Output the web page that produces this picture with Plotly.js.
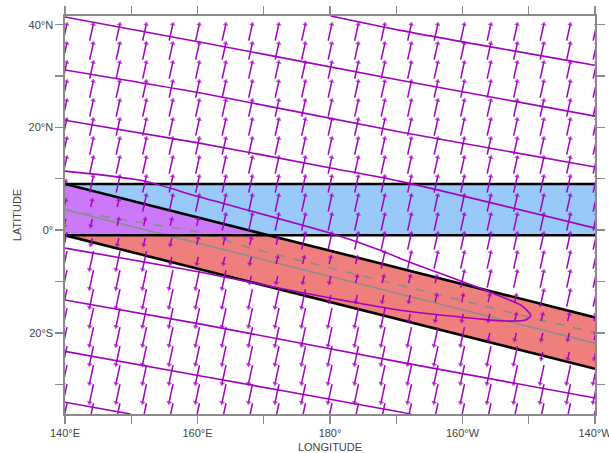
<!DOCTYPE html>
<html><head><meta charset="utf-8">
<script src="https://cdn.plot.ly/plotly-3.0.1.min.js"></script>
<style>html,body{margin:0;padding:0;background:#fff}#chart{width:609px;height:453px}</style>
</head><body><div id="chart"></div>
<script>
// ---- axis ticks ----
const lonTicks = [140,150,160,170,180,190,200,210,220];
const lonTickText = ['140°E','','160°E','','180°','','160°W','','140°W'];
const latTicks = [-30,-20,-10,0,10,20,30,40];
const latTickText = ['','20°S','','0°','','20°N','','40°N'];

// ---- shaded regions (lon, lat) ----
const blueLon = [140,220,220,140];   const blueLat = [9,9,-1,-1];
const redLon  = [140,220,220,140];   const redLat  = [9,-17,-27,-1];
const overlapLon = [140,170.8,140];  const overlapLat = [9,-1,-1];
// black outlines
const hTopLon = [140,220]; const hTopLat = [9,9];
const hBotLon = [140,220]; const hBotLat = [-1,-1];
const tUpLon = [140,220];  const tUpLat = [9,-17];
const tLoLon = [140,220];  const tLoLat = [-1,-27];
// gray lines
const graySolidLon = [140,220]; const graySolidLat = [4,-22];
const grayDashLon = [140,160.5,168,187.6,211.8,220];
const grayDashLat = [3.9,-0.4,-3.5,-9.7,-17.5,-19.9];

// ---- magenta contour lines ----
const cN0Lon = [180.1,190.6,220];            const cN0Lat = [41.7,38.9,32.1];
const cN1Lon = [140,160.5,190.6,220];        const cN1Lat = [41.5,36.6,29.2,22.2];
const cN2Lon = [140,160.5,190.6,220];        const cN2Lat = [31.2,26.7,19.1,12.3];
const cN3Lon = [140,160.5,180.1,190.6,220];  const cN3Lat = [21.4,16.9,12.1,9.5,0.4];
const cLoopLon = [140,151.4,160.5,180.1,187.6,190.6,204.2,208.8,210,210.3,209.5,206.5,202.7,190.6,175.5,160.5,140];
const cLoopLat = [11.5,9.7,6.4,-0.6,-3.9,-5.5,-12.1,-14.6,-16,-16.7,-17.5,-17.7,-17.3,-15.6,-12.1,-8.2,-3.5];
const cS1Lon = [140,160.5,190.6,220];        const cS1Lat = [-13.6,-18.3,-25.7,-32.7];
const cS2Lon = [140,160.5,190.6,192.2];      const cS2Lat = [-23.6,-28.4,-35.4,-35.8];
const cS3Lon = [140,149.9];                  const cS3Lat = [-33.5,-35.8];

// ---- wind vectors ----
const vecLon = [140,144,148,152,156,160,164,168,172,176,180,184,188,192,196,200,204,208,212,216,220];
const vecLat = [38.5,34.8,31.1,27.4,23.7,20.0,16.3,12.6,8.9,5.2,1.5,-2.2,-5.9,-9.6,-13.3,-17.0,-20.7,-24.4,-28.1,-31.8,-35.5];
// one string per latitude row, one letter per longitude column
const vecRows = [
 'NNNNNNNNNNNNNNNNNNNNN',
 'NNNNNNNNNNNNNNNNNNNNN',
 'NNNNNNNNNNNNNNNNNNNNN',
 'NNNNNNNNNNNNNNNNNNNNN',
 'NNNNNNNNNNNNNNNNNNNNN',
 'NNNNNNNNNNNNNNNNNNNNN',
 'NNNNNNNNNNNNNNNNNNNNN',
 'NNNNNNNNNNNNNNNNNNNNN',
 'nNNNNNNNNNNNNNNNNNNNN',
 'nnnNNNNNNNNNNNNNNNNNN',
 'ssnnnnNNNNNNNNNNNNNNN',
 'SssssnnnnNNNNNNNNNNNN',
 'SSSSssssnnnnNNNNNNNNN',
 'SSSSSSSssssnnnnNNNNNN',
 'SSSSSSSSSSssssnnnnNNN',
 'SSSSSSSSSSSSSssssnnnn',
 'SSSSSSSSSSSSSSSSssssn',
 'SSSSSSSSSSSSSSSSSSsss',
 'SSSSSSSSSSSSSSSSSSSSS',
 'SSSSSSSSSSSSSSSSSSSSS',
 'SSSSSSSSSSSSSSSSSSSSS'
];
// (u, v) of each arrow kind, in degrees of lon / lat
const vecKinds = {N:[0.55,3.2], n:[0.25,1.4], s:[-0.25,-1.4], S:[-0.6,-3.6]};

const MAG = '#a300c2';
const traces = [];
function poly(x,y,color){traces.push({x:x,y:y,type:'scatter',mode:'lines',fill:'toself',fillcolor:color,line:{width:0},hoverinfo:'skip'});}
function line(x,y,color,w,dash,shape){traces.push({x:x,y:y,type:'scatter',mode:'lines',line:{color:color,width:w,dash:dash||'solid',shape:shape||'linear',smoothing:0.7},hoverinfo:'skip'});}

poly(blueLon,blueLat,'#99c9f9');
poly(redLon,redLat,'#ef7f7c');
poly(overlapLon,overlapLat,'#cc78fb');
line(graySolidLon,graySolidLat,'#8c8c8c',1.6);
line(grayDashLon,grayDashLat,'#8c8c8c',1.6,'dash');
line(hTopLon,hTopLat,'#000',2.6); line(hBotLon,hBotLat,'#000',2.6);
line(tUpLon,tUpLat,'#000',2.6);   line(tLoLon,tLoLat,'#000',2.6);

[[cN0Lon,cN0Lat],[cN1Lon,cN1Lat],[cN2Lon,cN2Lat],[cN3Lon,cN3Lat],[cS1Lon,cS1Lat],[cS2Lon,cS2Lat],[cS3Lon,cS3Lat]]
  .forEach(c=>line(c[0],c[1],MAG,1.6,'solid','spline'));
line(cLoopLon,cLoopLat,MAG,1.6,'solid','spline');

const ax=[],ay=[],as=[];
vecRows.forEach((row,r)=>{
  for(let c=0;c<row.length;c++){
    const k=vecKinds[row[c]]; if(!k) continue;
    const lo=vecLon[c], la=vecLat[r];
    ax.push(lo-k[0]/2, lo+k[0]/2, null);
    ay.push(la-k[1]/2, la+k[1]/2, null);
    as.push(0, 5, 0);
  }
});
traces.push({x:ax,y:ay,type:'scatter',mode:'lines+markers',line:{color:MAG,width:1.5},
  marker:{symbol:'triangle-up',angleref:'previous',size:as,color:MAG,line:{width:0}},hoverinfo:'skip',cliponaxis:true});

const FONT = 'Liberation Sans, Arial, sans-serif';
const axisCommon = {showgrid:false,zeroline:false,showline:true,linecolor:'#8a8a8a',linewidth:1.6,
  ticks:'outside',ticklen:8,tickwidth:1.4,tickcolor:'#8a8a8a',mirror:'ticks',ticklabeloverflow:'allow',
  tickfont:{family:FONT,size:11,color:'#444'}};
const layout = {
  width:609,height:453,margin:{l:65,r:14,t:16,b:39},
  paper_bgcolor:'#fff',plot_bgcolor:'#fff',showlegend:false,
  xaxis:Object.assign({},axisCommon,{range:[140,220],tickvals:lonTicks,ticktext:lonTickText,
    title:{text:'LONGITUDE',standoff:5,font:{family:FONT,size:11,color:'#444'}}}),
  yaxis:Object.assign({},axisCommon,{range:[-35.8,41.7],tickvals:latTicks,ticktext:latTickText,
    title:{text:'LATITUDE',standoff:5,font:{family:FONT,size:11,color:'#444'}}})
};
Plotly.newPlot('chart',traces,layout,{staticPlot:true,displayModeBar:false});
</script></body></html>
